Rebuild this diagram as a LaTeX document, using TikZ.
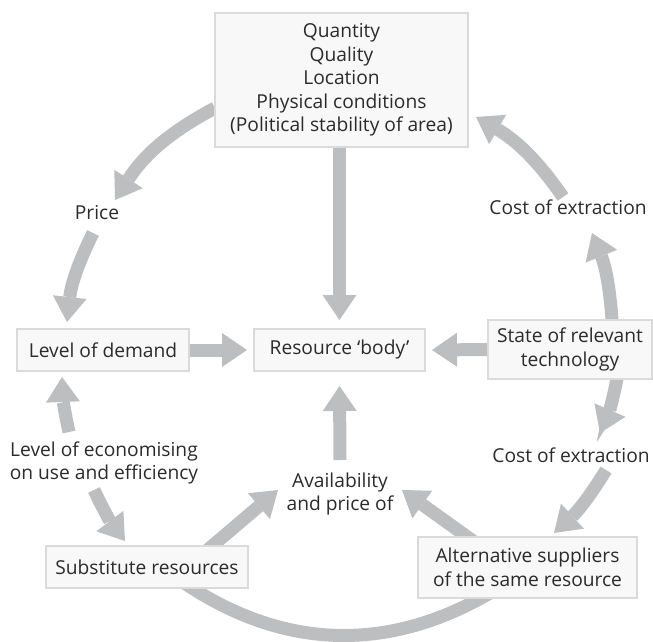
\documentclass[tikz,border=0pt]{standalone}
\usepackage{fontspec}
\setmainfont{Open Sans}
\usetikzlibrary{arrows.meta,backgrounds}
\definecolor{arrowgray}{HTML}{BCBEC0}
\definecolor{boxfill}{HTML}{F8F8F8}
\definecolor{boxline}{HTML}{DADADA}
\definecolor{txt}{HTML}{2B2B2B}
\tikzset{
  box/.style={draw=boxline, line width=1.2pt, fill=boxfill, inner sep=0pt, outer sep=0pt, align=center, text=txt},
  lbl/.style={inner sep=0pt, outer sep=0pt, align=center, text=txt},
  arr/.style={draw=arrowgray, line width=13pt, line cap=butt,
    -{Triangle[length=25pt,width=34pt,line width=0pt]}},
  band/.style={draw=arrowgray, line width=13pt, line cap=butt},
}
\begin{document}
\begin{tikzpicture}[x=1pt,y=1pt,font=\fontsize{19.2}{23.5}\selectfont]
\useasboundingbox (0,0) rectangle (653,-642);
% boxes
\node[box, minimum width=253, minimum height=134] (top) at (341.5,-80)
  {Quantity\\Quality\\Location\\Physical conditions\\(Political stability of area)};
\node[box, minimum width=172, minimum height=42] (dem) at (103,-350) {Level of demand};
\node[box, minimum width=171, minimum height=42] (res) at (339.5,-350) {Resource ‘body’};
\node[box, minimum width=164, minimum height=59] (tech) at (570,-349.5) {State of relevant\\technology};
\node[box, minimum width=202, minimum height=42] (sub) at (147,-567) {Substitute resources};
\node[box, minimum width=219, minimum height=61] (alt) at (527.5,-567.5) {Alternative suppliers\\of the same resource};
% labels
\node[lbl] (price) at (97,-213) {Price};
\node[lbl] (costA) at (568,-207) {Cost of extraction};
\node[lbl] (costB) at (571,-455) {Cost of extraction};
\node[lbl] (econ) at (104,-463) {Level of economising\\on use and efficiency};
\node[lbl] (avail) at (340,-494) {Availability\\and price of};
% connectors
\begin{scope}[on background layer]
\draw[arr] (res.north |- top.south) -- ([yshift=9]res.north);
\draw[arr] (dem.east) -- ([xshift=-7]res.west);
\draw[arr] (tech.west) -- ([xshift=7]res.east);
\draw[arr] ([yshift=34]avail.center) -- ([yshift=-15]res.south);
\draw[arr] ([yshift=-28]top.west) to[bend right=14.5] ([shift={(18,13)}]price.center);
\draw[arr] ([shift={(-4,-20)}]price.center) to[bend right=10] ([shift={(-36,7)}]dem.north);
\draw[arr] ([shift={(-35,31)}]econ.center) to[bend left=5] ([shift={(-41,-6)}]dem.south);
\draw[arr] ([shift={(-10,-27)}]econ.center) to[bend right=6] ([shift={(-22,5)}]sub.north);
\draw[arr] ([shift={(51,9)}]sub.center) -- ([shift={(-62,4)}]avail.center);
\draw[arr] ([shift={(-47.5,21.5)}]alt.center) -- ([shift={(62,4)}]avail.center);
\draw[arr] ([xshift=42]tech.north) to[bend right=9] ([shift={(24,-26)}]costA.center);
\draw[arr] ([shift={(-5,10)}]costA.center) to[bend right=12.5] ([shift={(8,-37)}]top.east);
\draw[arr] ([xshift=47]tech.south) to[bend left=6] ([shift={(29,22)}]costB.center);
\draw[arr] ([shift={(35,-15)}]costB.center) to[bend left=8] ([shift={(26.5,4)}]alt.north);
\draw[band] ([shift={(33,-13)}]sub.center) to[bend right=33] ([shift={(-32.5,-22.5)}]alt.center);
\end{scope}
\end{tikzpicture}
\end{document}
